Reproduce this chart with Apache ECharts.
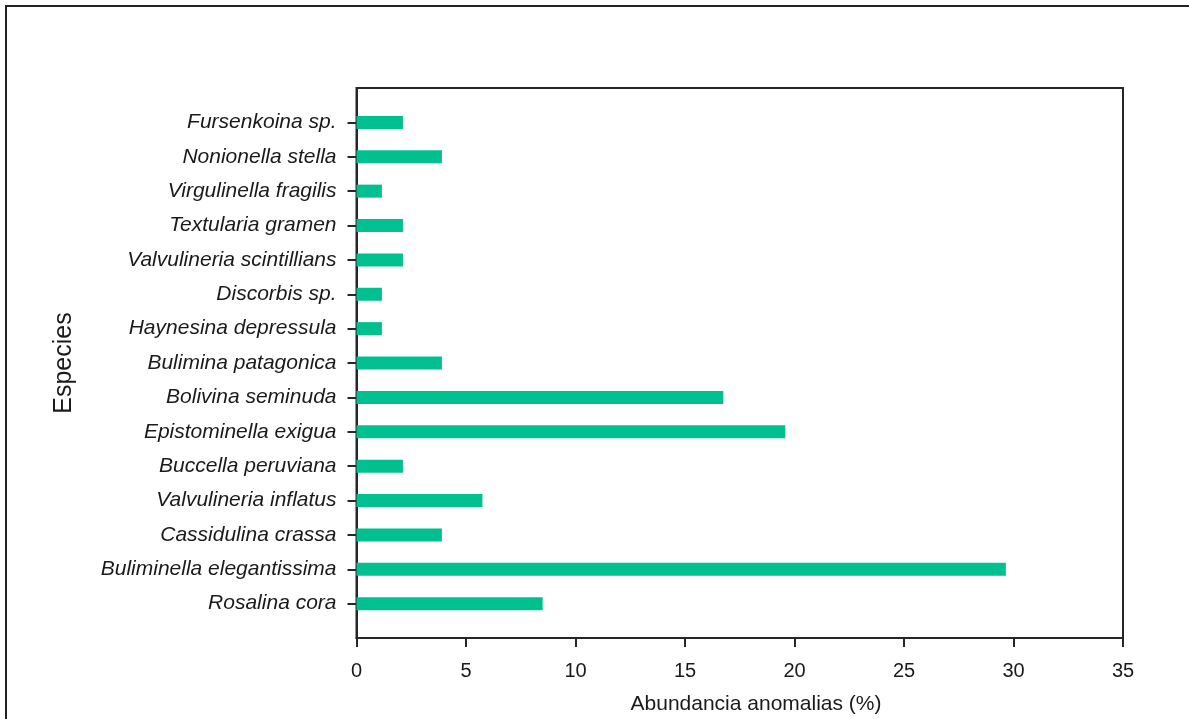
<!DOCTYPE html>
<html>
<head>
<meta charset="utf-8">
<title>Abundancia anomalias por especie</title>
<script src="https://cdn.jsdelivr.net/npm/echarts@6/dist/echarts.min.js"></script>
<style>
  html, body { margin: 0; padding: 0; background: #ffffff; }
  #chart { width: 1189px; height: 719px; }
</style>
</head>
<body>
<div id="chart"></div>
<script>
// Species, listed bottom to top as they appear on the vertical axis
const species = [
  'Rosalina cora',
  'Buliminella elegantissima',
  'Cassidulina crassa',
  'Valvulineria inflatus',
  'Buccella peruviana',
  'Epistominella exigua',
  'Bolivina seminuda',
  'Bulimina patagonica',
  'Haynesina depressula',
  'Discorbis sp.',
  'Valvulineria scintillians',
  'Textularia gramen',
  'Virgulinella fragilis',
  'Nonionella stella',
  'Fursenkoina sp.'
];

// Abundance of abnormal tests (%) for each species, same order
const abundance = [8.5, 29.65, 3.9, 5.75, 2.12, 19.58, 16.75, 3.9, 1.16, 1.16, 2.12, 2.12, 1.16, 3.9, 2.12];

// Horizontal axis ticks
const xTicks = [0, 5, 10, 15, 20, 25, 30, 35];

const xTitle = 'Abundancia anomalias (%)';
const yTitle = 'Especies';

// Empty slots above and below give the half-step padding at both ends of the axis
const yCats = [''].concat(species, ['']);
const yVals = [null].concat(abundance, [null]);

const FONT = '"Liberation Sans", Arial, sans-serif';
const INK = '#1a1a1a';
const AXIS = '#262626';

const chart = echarts.init(document.getElementById('chart'), null, { renderer: 'canvas' });

chart.setOption({
  backgroundColor: '#ffffff',
  animation: false,
  grid: {
    left: 356.5,
    right: 66,
    top: 88,
    bottom: 81,
    show: true,
    borderColor: AXIS,
    borderWidth: 2,
    containLabel: false
  },
  xAxis: {
    type: 'value',
    min: xTicks[0],
    max: xTicks[xTicks.length - 1],
    interval: xTicks[1] - xTicks[0],
    splitLine: { show: false },
    axisLine: { show: true, lineStyle: { color: AXIS, width: 2 } },
    axisTick: { show: true, length: 9, lineStyle: { color: AXIS, width: 2 } },
    axisLabel: {
      margin: 23,
      color: INK,
      fontFamily: FONT,
      fontSize: 20
    }
  },
  yAxis: {
    type: 'category',
    data: yCats,
    boundaryGap: false,
    axisLine: { show: true, lineStyle: { color: AXIS, width: 2 } },
    axisTick: {
      show: true,
      length: 9,
      interval: function (index, value) { return value !== ''; },
      lineStyle: { color: AXIS, width: 2 }
    },
    axisLabel: {
      interval: 0,
      margin: 20,
      padding: [4, 0, 0, 0],
      color: INK,
      fontFamily: FONT,
      fontSize: 21,
      fontStyle: 'italic'
    },
    splitLine: { show: false }
  },
  series: [{
    type: 'bar',
    data: yVals,
    barWidth: 13,
    itemStyle: { color: '#00c08f' }
  }],
  graphic: [
    {
      type: 'rect',
      silent: true,
      shape: { x: 6, y: 6, width: 1400, height: 1000 },
      style: { fill: 'none', stroke: '#222222', lineWidth: 2 }
    },
    {
      type: 'text',
      silent: true,
      x: 756,
      y: 704,
      style: {
        text: xTitle,
        fill: INK,
        font: '21px ' + FONT,
        align: 'center',
        verticalAlign: 'middle'
      }
    },
    {
      type: 'text',
      silent: true,
      x: 64,
      y: 363,
      rotation: Math.PI / 2,
      style: {
        text: yTitle,
        fill: INK,
        font: '25px ' + FONT,
        align: 'center',
        verticalAlign: 'middle'
      }
    }
  ]
});
</script>
</body>
</html>
